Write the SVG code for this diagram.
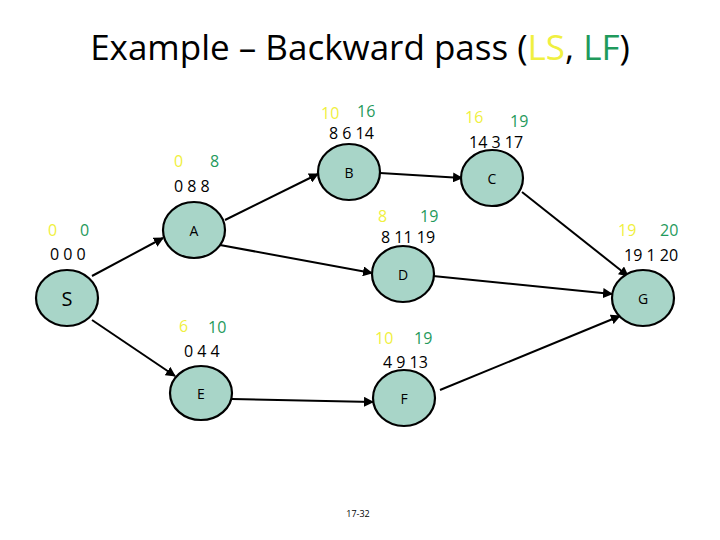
<svg xmlns="http://www.w3.org/2000/svg" width="720" height="540" viewBox="0 0 720 540">
<style>
text{font-family:"Open Sans","Liberation Sans",sans-serif;}
.n ellipse{fill:#a8d5c8;stroke:#000;stroke-width:2.2}
.nl{font-size:14px;text-anchor:middle}
.y{fill:#f0f040;font-size:16px}
.g{fill:#1f9a5c;font-size:16px}
.k{fill:#000;font-size:16px}
.e line{stroke:#000;stroke-width:2;marker-end:url(#ar)}
</style>
<defs><marker id="ar" viewBox="0 0 10 10" refX="9" refY="5" markerWidth="5" markerHeight="5" orient="auto"><path d="M0,0L10,5L0,10z" fill="#000"/></marker></defs>
<rect width="720" height="540" fill="#fff"/>
<text x="360" y="60" font-size="35" text-anchor="middle" font-family="Open Sans, sans-serif">Example – Backward pass (<tspan fill="#f0f040">LS</tspan>, <tspan fill="#1f9a5c">LF</tspan>)</text>
<g class="e">
<line x1="92" y1="276" x2="163" y2="238"/>
<line x1="225" y1="220" x2="318" y2="174"/>
<line x1="220" y1="245" x2="372" y2="273"/>
<line x1="380" y1="173" x2="462" y2="178"/>
<line x1="522" y1="192" x2="628" y2="276"/>
<line x1="433" y1="276" x2="612" y2="294"/>
<line x1="92" y1="320" x2="175" y2="376"/>
<line x1="232" y1="399" x2="373" y2="402"/>
<line x1="440" y1="390" x2="620" y2="316"/>
</g>
<g id="S" class="n"><ellipse cx="67" cy="298" rx="31" ry="28"/><text x="67" y="306" class="nl" style="font-size:20px">S</text><text x="48" y="236" class="y">0</text><text x="80" y="236" class="g">0</text><text x="50" y="260" class="k">0 0 0</text></g>
<g id="A" class="n"><ellipse cx="194" cy="230" rx="31" ry="28"/><text x="194" y="236" class="nl">A</text><text x="174" y="167" class="y">0</text><text x="210" y="167" class="g">8</text><text x="174" y="192" class="k">0 8  8</text></g>
<g id="B" class="n"><ellipse cx="349" cy="172" rx="31" ry="28"/><text x="349" y="178" class="nl">B</text><text x="321" y="119" class="y">10</text><text x="357" y="117" class="g">16</text><text x="329" y="139" class="k">8 6 14</text></g>
<g id="C" class="n"><ellipse cx="492" cy="178" rx="31" ry="28"/><text x="492" y="184" class="nl">C</text><text x="465" y="123" class="y">16</text><text x="510" y="127" class="g">19</text><text x="469" y="148" class="k">14  3 17</text></g>
<g id="D" class="n"><ellipse cx="403" cy="274" rx="31" ry="28"/><text x="403" y="280" class="nl">D</text><text x="378" y="222" class="y">8</text><text x="420" y="222" class="g">19</text><text x="381" y="243" class="k">8 11 19</text></g>
<g id="G" class="n"><ellipse cx="643" cy="298" rx="31" ry="28"/><text x="643" y="304" class="nl">G</text><text x="618" y="236" class="y">19</text><text x="660" y="236" class="g">20</text><text x="624" y="261" class="k">19 1 20</text></g>
<g id="E" class="n"><ellipse cx="201" cy="393" rx="31" ry="27"/><text x="201" y="399" class="nl">E</text><text x="179" y="332" class="y">6</text><text x="208" y="333" class="g">10</text><text x="184" y="357" class="k">0 4 4</text></g>
<g id="F" class="n"><ellipse cx="404" cy="398" rx="31" ry="28"/><text x="404" y="404" class="nl">F</text><text x="375" y="344" class="y">10</text><text x="414" y="344" class="g">19</text><text x="383" y="368" class="k">4 9 13</text></g>
<text x="358" y="517" font-size="9" text-anchor="middle">17-32</text>
</svg>
